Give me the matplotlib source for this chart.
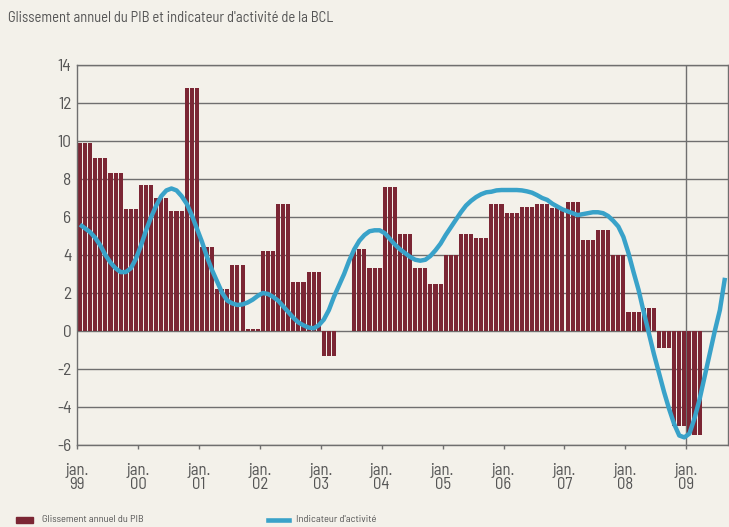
import numpy as np
import matplotlib
matplotlib.use("Agg")
import matplotlib.pyplot as plt
import matplotlib.transforms as mtransforms
from matplotlib.patches import Rectangle
from matplotlib.lines import Line2D

# Quarterly GDP year-on-year growth, Q1 1999 .. Q1 2009 (%)
pib_trim = [9.9, 9.1, 8.3, 6.4,
            7.7, 7.0, 6.3, 12.8,
            4.4, 2.2, 3.5, 0.1,
            4.2, 6.7, 2.6, 3.1,
            -1.3, 0.0, 4.3, 3.3,
            7.6, 5.1, 3.3, 2.5,
            4.0, 5.1, 4.9, 6.7,
            6.2, 6.55, 6.7, 6.45,
            6.8, 4.8, 5.3, 4.0,
            1.0, 1.2, -0.9, -5.0,
            -5.45]

# BCL activity indicator, monthly from jan. 1999 to aug. 2009
indicateur = [5.6, 5.4, 5.2, 4.9, 4.5, 4.0, 3.6, 3.3, 3.1, 3.1, 3.3, 3.8,
              4.5, 5.3, 6.0, 6.6, 7.1, 7.4, 7.5, 7.4, 7.1, 6.7, 6.1, 5.4,
              4.7, 3.9, 3.2, 2.6, 2.0, 1.6, 1.45, 1.37, 1.4, 1.5, 1.65, 1.85,
              2.0, 1.95, 1.8, 1.6, 1.3, 1.0, 0.7, 0.45, 0.3, 0.18, 0.14, 0.3,
              0.6, 1.1, 1.8, 2.4, 3.0, 3.7, 4.3, 4.75, 5.05, 5.25, 5.3, 5.3,
              5.15, 4.85, 4.55, 4.3, 4.1, 3.9, 3.75, 3.7, 3.75, 3.95, 4.25, 4.6,
              5.05, 5.45, 5.85, 6.25, 6.6, 6.85, 7.05, 7.2, 7.3, 7.33, 7.4, 7.42,
              7.42, 7.42, 7.42, 7.4, 7.35, 7.28, 7.15, 7.0, 6.9, 6.7, 6.55, 6.4,
              6.3, 6.2, 6.1, 6.15, 6.2, 6.25, 6.25, 6.2, 6.05, 5.8, 5.5, 4.95,
              4.1, 3.1, 2.15, 1.0, -0.1, -1.2, -2.2, -3.2, -4.1, -4.9, -5.5, -5.6,
              -5.4, -4.6, -3.6, -2.4, -1.2, 0.0, 1.1, 2.8]

annees = ["99", "00", "01", "02", "03", "04", "05", "06", "07", "08", "09"]

BG = "#f3f1ea"
BAR = "#7b2634"
LINE = "#39a2c9"
GRID = "#6f6f6f"
TXT = "#555555"

plt.rcParams["font.family"] = ["Barlow Semi Condensed", "DejaVu Sans"]
plt.rcParams["axes.unicode_minus"] = False

fig = plt.figure(figsize=(7.29, 5.27), dpi=100, facecolor=BG)
ax = fig.add_axes([77 / 729, 1 - 445 / 527, 651 / 729, 380 / 527])
ax.set_facecolor(BG)

# monthly bars: each quarter value repeated on its three months
pib_mois = np.repeat(pib_trim, 3)
mois_bar = np.arange(len(pib_mois)) + 0.6
ax.bar(mois_bar, pib_mois, width=0.8, color=BAR, zorder=2)

mois_line = np.arange(len(indicateur)) + 0.6
ax.plot(mois_line, indicateur, color=LINE, lw=3.2, solid_capstyle="butt",
        solid_joinstyle="round", zorder=3)

ax.set_xlim(0, 128.2)
ax.set_ylim(-6, 14)
ax.set_yticks(np.arange(-6, 15, 2))
ax.yaxis.grid(True, color=GRID, lw=1.0, zorder=0)
ax.set_axisbelow(True)
ax.axvline(120, color=GRID, lw=1.0, zorder=1)

ax.set_xticks(np.arange(0, 121, 12))
ax.set_xticklabels(["jan.\n" + a for a in annees], fontsize=12, color=TXT,
                   linespacing=0.9)
off = mtransforms.ScaledTranslation(3 / 100, 0, fig.dpi_scale_trans)
for lab in ax.get_xticklabels():
    lab.set_transform(lab.get_transform() + off)
ax.tick_params(axis="x", length=3, width=1, color=GRID, pad=10)
ax.tick_params(axis="y", length=0, pad=4, labelsize=12.5, labelcolor=TXT)

for s in ax.spines.values():
    s.set_color(GRID)
    s.set_linewidth(1.0)

fig.text(8 / 729, 1 - 18 / 527, "Glissement annuel du PIB et indicateur d'activité de la BCL",
         fontsize=10.5, color=TXT, va="center", ha="left")

# legend drawn by hand at the bottom
fig.add_artist(Rectangle((16 / 729, 1 - 523 / 527), 17 / 729, 6 / 527,
                         transform=fig.transFigure, color=BAR))
fig.text(42 / 729, 1 - 520 / 527, "Glissement annuel du PIB", fontsize=7.5,
         color=TXT, va="center", ha="left")
fig.add_artist(Line2D([268 / 729, 289 / 729], [1 - 520 / 527, 1 - 520 / 527],
                      transform=fig.transFigure, color=LINE, lw=3.3))
fig.text(296 / 729, 1 - 520 / 527, "Indicateur d'activité", fontsize=7.5,
         color=TXT, va="center", ha="left")

fig.savefig("out.png", dpi=100, facecolor=BG)
